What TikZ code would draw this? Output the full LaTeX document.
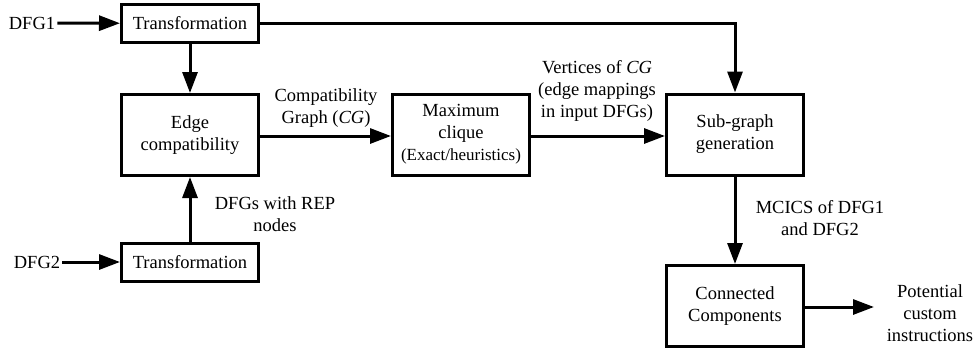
\documentclass[tikz,border=0pt]{standalone}
\usepackage{fontspec}
\setmainfont{Liberation Serif}
\usetikzlibrary{arrows.meta}
\begin{document}
\begin{tikzpicture}[x=1pt,y=-1pt,
  every node/.style={font=\fontsize{18.5}{22}\selectfont, align=center, inner sep=0pt},
  block/.style={draw, line width=3pt, minimum width=137pt},
  arr/.style={line width=3pt, -{Triangle[length=21pt,width=15pt]}},
  small/.style={font=\fontsize{17}{22}\selectfont}]
  \useasboundingbox (0,0) rectangle (976,348);

  % blocks
  \node[block, minimum height=38pt] (t1) at (190,23.5) {Transformation};
  \node[block, minimum height=81pt] (ec) at (190,135) {Edge\\compatibility};
  \node[block, minimum height=38pt] (t2) at (190,262) {Transformation};
  \node[block, minimum height=81pt] (mc) at (461,134.5) {Maximum\\clique\\{\fontsize{17}{22}\selectfont(Exact/heuristics)}};
  \node[block, minimum height=81pt] (sg) at (735,134.5) {Sub-graph\\generation};
  \node[block, minimum height=81pt] (cc) at (735,306) {Connected\\Components};

  % inputs and output
  \node (dfg1) at (32,23) {DFG1};
  \node (dfg2) at (37,262) {DFG2};
  \coordinate (out) at (874,307);
  \node (pot) at (930,313) {Potential\\custom\\instructions};

  % connectors
  \draw[arr] (dfg1.east) ++(2,0) coordinate (d1s) (d1s) -- (t1);
  \draw[arr] (dfg2.east) ++(2,0) coordinate (d2s) (d2s) -- (t2);
  \draw[arr] (t1) -- (ec);
  \draw[arr] (t2) -- (ec);
  \draw[arr] (t1) -| (sg);
  \draw[arr] (ec.east |- 0,136) -- (mc.west |- 0,136);
  \draw[arr] (mc.east |- 0,136) -- (sg.west |- 0,136);
  \draw[arr] (sg) -- (cc);
  \draw[arr] (cc.east |- out) -- (out);

  % connector labels
  \node (lcg) at (326,108) {Compatibility\\Graph (\textit{CG})};
  \node (lv) at (597,90.5) {Vertices of \textit{CG}\\(edge mappings\\in input DFGs)};
  \node (lrep) at (275,214) {DFGs with REP\\nodes};
  \node (lm) at (820,218.5) {MCICS of DFG1\\and DFG2};
\end{tikzpicture}
\end{document}
